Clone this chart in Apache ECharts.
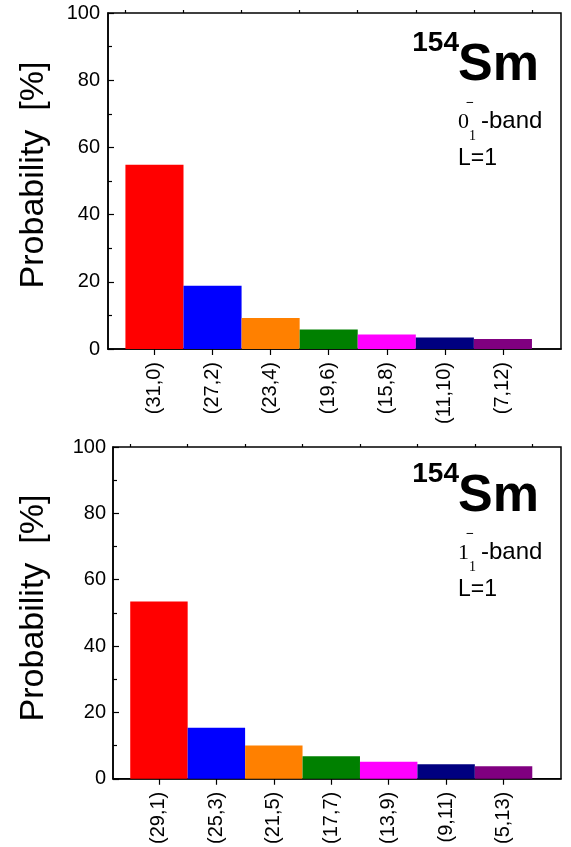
<!DOCTYPE html>
<html><head><meta charset="utf-8">
<script src="https://cdn.jsdelivr.net/npm/echarts@6/dist/echarts.min.js"></script>
<style>html,body{margin:0;padding:0;background:#fff}#c{width:571px;height:847px}</style>
</head><body><div id="c"></div>
<script>
const topCategories = ['(31,0)','(27,2)','(23,4)','(19,6)','(15,8)','(11,10)','(7,12)'];
const topValues = [54.8, 18.8, 9.2, 5.8, 4.3, 3.4, 3.0];
const bottomCategories = ['(29,1)','(25,3)','(21,5)','(17,7)','(13,9)','(9,11)','(5,13)'];
const bottomValues = [53.4, 15.4, 10.0, 6.8, 5.1, 4.4, 3.8];
const barColors = ['#ff0000','#0000ff','#ff8000','#008000','#ff00ff','#000080','#800080'];
const yMin = 0, yMax = 100, yStep = 20;

const SANS = '"Liberation Sans", Arial, sans-serif';
const SERIF = '"Liberation Serif", "Times New Roman", serif';
const chart = echarts.init(document.getElementById('c'), null, {renderer: 'canvas'});

const centers = n => Array.from({length: n}, (_, i) => i + 1);
const edges = n => Array.from({length: n + 1}, (_, i) => i + 0.5);

function renderBar(params, api) {
  const x = api.value(0), v = api.value(1);
  const p0 = api.coord([x - 0.5, 0]);
  const p1 = api.coord([x + 0.5, v]);
  return {type: 'rect',
    shape: {x: p0[0], y: p1[1], width: p1[0] - p0[0], height: p0[1] - p1[1]},
    style: {fill: barColors[params.dataIndex % barColors.length]}};
}

const axisLine = {show: true, lineStyle: {color: '#000', width: 1.5}};
function mainX(grid, cats) {
  return {gridIndex: grid, type: 'value', min: 0.2, max: 8,
    axisLine: axisLine,
    axisTick: {show: true, customValues: centers(cats.length), length: 6, lineStyle: {color: '#000', width: 1.2}},
    axisLabel: {show: true, customValues: centers(cats.length), rotate: 90, margin: 13,
      fontFamily: SANS, fontSize: 20, color: '#000',
      formatter: v => cats[Math.round(v) - 1] || ''},
    splitLine: {show: false}};
}
function minorX(grid, cats) {
  return {gridIndex: grid, type: 'value', min: 0.2, max: 8,
    axisLine: {show: false},
    axisTick: {show: true, customValues: edges(cats.length), length: 3, lineStyle: {color: '#000', width: 1.2}},
    axisLabel: {show: false}, splitLine: {show: false}};
}
function yAx(grid, margin) {
  return {gridIndex: grid, type: 'value', min: yMin, max: yMax, interval: yStep,
    axisLine: axisLine,
    axisTick: {show: true, inside: true, length: 6, lineStyle: {color: '#000', width: 1.2}},
    minorTick: {show: true, splitNumber: 2, length: 4, lineStyle: {color: '#000', width: 1.2}},
    axisLabel: {fontFamily: SANS, fontSize: 20, color: '#000', margin: margin},
    splitLine: {show: false}};
}

function annot(dy, bandDigit) {
  return [
    {type: 'text', x: 459, y: 43 + dy, style: {text: '154', font: 'bold 28px ' + SANS, fill: '#000', align: 'right', verticalAlign: 'middle'}},
    {type: 'text', x: 458, y: 66 + dy, style: {text: 'Sm', font: 'bold 52px ' + SANS, fill: '#000', align: 'left', verticalAlign: 'middle'}},
    {type: 'text', x: 458, y: 122 + dy, style: {text: bandDigit, font: '22px ' + SERIF, fill: '#000', align: 'left', verticalAlign: 'middle'}},
    {type: 'text', x: 466, y: 103 + dy, style: {text: '\u2212', font: 'bold 14px ' + SERIF, fill: '#000', align: 'left', verticalAlign: 'middle'}},
    {type: 'text', x: 469, y: 136 + dy, style: {text: '1', font: '14px ' + SERIF, fill: '#000', align: 'left', verticalAlign: 'middle'}},
    {type: 'text', x: 481, y: 121 + dy, style: {text: '-band', font: '24px ' + SANS, fill: '#000', align: 'left', verticalAlign: 'middle'}},
    {type: 'text', x: 458, y: 159 + dy, style: {text: 'L=1', font: '23px ' + SANS, fill: '#000', align: 'left', verticalAlign: 'middle'}}
  ];
}
function yName(cy) {
  return {type: 'text', x: 34, y: cy, rotation: Math.PI / 2,
    style: {text: 'Probability  [%]', font: '34px ' + SANS, fill: '#000', align: 'center', verticalAlign: 'middle'}};
}

const option = {
  animation: false,
  backgroundColor: '#fff',
  grid: [
    {left: 108, top: 13, width: 453, height: 336, show: true, borderColor: '#000', borderWidth: 1.5, backgroundColor: 'transparent'},
    {left: 113, top: 447, width: 448, height: 333, show: true, borderColor: '#000', borderWidth: 1.5, backgroundColor: 'transparent'}
  ],
  xAxis: [mainX(0, topCategories), minorX(0, topCategories), mainX(1, bottomCategories), minorX(1, bottomCategories)],
  yAxis: [yAx(0, 8), yAx(1, 7)],
  series: [
    {type: 'custom', xAxisIndex: 0, yAxisIndex: 0, renderItem: renderBar,
      data: topValues.map((v, i) => [i + 1, v]), encode: {x: 0, y: 1}},
    {type: 'custom', xAxisIndex: 2, yAxisIndex: 1, renderItem: renderBar,
      data: bottomValues.map((v, i) => [i + 1, v]), encode: {x: 0, y: 1}}
  ],
  graphic: [yName(175), yName(608)].concat(annot(0, '0'), annot(431, '1'))
};
chart.setOption(option);
</script>
</body></html>
